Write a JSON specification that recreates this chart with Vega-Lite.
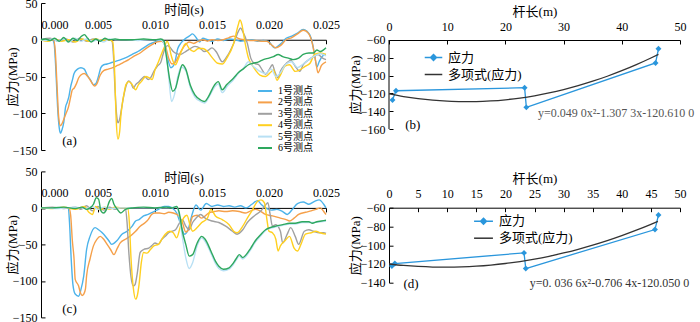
{
"$schema": "https://vega.github.io/schema/vega-lite/v6.json",
"background": "white",
"padding": {"left": 6, "top": -3, "right": 0, "bottom": 0},
"config": {
 "view": {"stroke": null},
 "font": "Liberation Serif, Noto Sans CJK SC",
 "axis": {"grid": false, "domainColor": "#000", "domainWidth": 1, "tickColor": "#000", "tickSize": -4, "tickWidth": 1, "labelColor": "#000", "labelFont": "Liberation Serif", "labelFontSize": 12, "titleFont": "Liberation Serif, Noto Sans CJK SC", "titleFontSize": 13, "titleFontWeight": "normal", "titleColor": "#000", "labelOverlap": false, "labelFlush": false, "labelBound": false},
 "legend": {"title": null, "orient": "none", "padding": 0, "labelFont": "Liberation Serif, Noto Sans CJK SC", "labelColor": "#000"}
},
"datasets": {
"A": [
{"s":"1号测点","t":0,"v":0},{"s":"1号测点","t":0.0005,"v":1},{"s":"1号测点","t":0.001,"v":0},{"s":"1号测点","t":0.00115,"v":-5},{"s":"1号测点","t":0.0013,"v":-40},{"s":"1号测点","t":0.00145,"v":-90},{"s":"1号测点","t":0.0016,"v":-120},{"s":"1号测点","t":0.0017,"v":-127},{"s":"1号测点","t":0.00185,"v":-122},{"s":"1号测点","t":0.002,"v":-112},{"s":"1号测点","t":0.00215,"v":-92},{"s":"1号测点","t":0.0023,"v":-85},{"s":"1号测点","t":0.00245,"v":-77},{"s":"1号测点","t":0.0026,"v":-64},{"s":"1号测点","t":0.00275,"v":-55},{"s":"1号测点","t":0.0029,"v":-46},{"s":"1号测点","t":0.0032,"v":-40},{"s":"1号测点","t":0.0035,"v":-38},{"s":"1号测点","t":0.0038,"v":-40},{"s":"1号测点","t":0.00405,"v":-48},{"s":"1号测点","t":0.00435,"v":-55},{"s":"1号测点","t":0.0046,"v":-61},{"s":"1号测点","t":0.0048,"v":-60},{"s":"1号测点","t":0.005,"v":-52},{"s":"1号测点","t":0.00525,"v":-38},{"s":"1号测点","t":0.0055,"v":-34},{"s":"1号测点","t":0.0058,"v":-33},{"s":"1号测点","t":0.0062,"v":-31},{"s":"1号测点","t":0.0066,"v":-29},{"s":"1号测点","t":0.007,"v":-27},{"s":"1号测点","t":0.0075,"v":-24},{"s":"1号测点","t":0.008,"v":-20},{"s":"1号测点","t":0.0085,"v":-16},{"s":"1号测点","t":0.009,"v":-11},{"s":"1号测点","t":0.0095,"v":-6},{"s":"1号测点","t":0.01,"v":-3},{"s":"1号测点","t":0.0105,"v":-1},{"s":"1号测点","t":0.0108,"v":-5},{"s":"1号测点","t":0.0111,"v":-25},{"s":"1号测点","t":0.0114,"v":-38},{"s":"1号测点","t":0.0117,"v":-33},{"s":"1号测点","t":0.012,"v":-12},{"s":"1号测点","t":0.0123,"v":-4},{"s":"1号测点","t":0.0127,"v":2},{"s":"1号测点","t":0.013,"v":5},{"s":"1号测点","t":0.0133,"v":8},{"s":"1号测点","t":0.0136,"v":3},{"s":"1号测点","t":0.0139,"v":-3},{"s":"1号测点","t":0.0142,"v":2},{"s":"1号测点","t":0.0146,"v":0},{"s":"1号测点","t":0.015,"v":-2},{"s":"1号测点","t":0.0155,"v":1},{"s":"1号测点","t":0.016,"v":-1},{"s":"1号测点","t":0.0165,"v":1},{"s":"1号测点","t":0.017,"v":0},{"s":"1号测点","t":0.0175,"v":-2},{"s":"1号测点","t":0.018,"v":-1},{"s":"1号测点","t":0.0185,"v":0},{"s":"1号测点","t":0.019,"v":-2},{"s":"1号测点","t":0.0195,"v":-1},{"s":"1号测点","t":0.02,"v":-3},{"s":"1号测点","t":0.0205,"v":-11},{"s":"1号测点","t":0.021,"v":-6},{"s":"1号测点","t":0.0215,"v":2},{"s":"1号测点","t":0.022,"v":5},{"s":"1号测点","t":0.0225,"v":9},{"s":"1号测点","t":0.023,"v":14},{"s":"1号测点","t":0.0233,"v":12},{"s":"1号测点","t":0.0237,"v":2},{"s":"1号测点","t":0.024,"v":-20},{"s":"1号测点","t":0.0242,"v":-37},{"s":"1号测点","t":0.0244,"v":-30},{"s":"1号测点","t":0.0247,"v":-22},{"s":"1号测点","t":0.025,"v":-20},
{"s":"2号测点","t":0,"v":0},{"s":"2号测点","t":0.0011,"v":0},{"s":"2号测点","t":0.00125,"v":-15},{"s":"2号测点","t":0.0014,"v":-60},{"s":"2号测点","t":0.00155,"v":-105},{"s":"2号测点","t":0.0017,"v":-117},{"s":"2号测点","t":0.00185,"v":-114},{"s":"2号测点","t":0.002,"v":-108},{"s":"2号测点","t":0.0022,"v":-100},{"s":"2号测点","t":0.0024,"v":-92},{"s":"2号测点","t":0.0026,"v":-78},{"s":"2号测点","t":0.00275,"v":-68},{"s":"2号测点","t":0.0029,"v":-66},{"s":"2号测点","t":0.0031,"v":-60},{"s":"2号测点","t":0.0033,"v":-52},{"s":"2号测点","t":0.0035,"v":-48},{"s":"2号测点","t":0.0038,"v":-46},{"s":"2号测点","t":0.0041,"v":-50},{"s":"2号测点","t":0.0044,"v":-57},{"s":"2号测点","t":0.0047,"v":-63},{"s":"2号测点","t":0.0049,"v":-60},{"s":"2号测点","t":0.0052,"v":-48},{"s":"2号测点","t":0.0055,"v":-42},{"s":"2号测点","t":0.0059,"v":-40},{"s":"2号测点","t":0.0063,"v":-38},{"s":"2号测点","t":0.0067,"v":-35},{"s":"2号测点","t":0.0072,"v":-31},{"s":"2号测点","t":0.0077,"v":-27},{"s":"2号测点","t":0.0082,"v":-22},{"s":"2号测点","t":0.0087,"v":-18},{"s":"2号测点","t":0.0092,"v":-12},{"s":"2号测点","t":0.0097,"v":-7},{"s":"2号测点","t":0.0102,"v":-3},{"s":"2号测点","t":0.0106,"v":-2},{"s":"2号测点","t":0.0109,"v":-8},{"s":"2号测点","t":0.0112,"v":-25},{"s":"2号测点","t":0.0115,"v":-33},{"s":"2号测点","t":0.0118,"v":-30},{"s":"2号测点","t":0.0122,"v":-18},{"s":"2号测点","t":0.0126,"v":-8},{"s":"2号测点","t":0.013,"v":-3},{"s":"2号测点","t":0.0134,"v":-5},{"s":"2号测点","t":0.0138,"v":-2},{"s":"2号测点","t":0.0142,"v":0},{"s":"2号测点","t":0.0146,"v":-2},{"s":"2号测点","t":0.015,"v":0},{"s":"2号测点","t":0.0155,"v":-1},{"s":"2号测点","t":0.016,"v":0},{"s":"2号测点","t":0.0165,"v":3},{"s":"2号测点","t":0.0169,"v":5},{"s":"2号测点","t":0.0173,"v":2},{"s":"2号测点","t":0.0178,"v":0},{"s":"2号测点","t":0.0183,"v":-1},{"s":"2号测点","t":0.0188,"v":-1},{"s":"2号测点","t":0.0193,"v":-2},{"s":"2号测点","t":0.0198,"v":-2},{"s":"2号测点","t":0.0203,"v":-8},{"s":"2号测点","t":0.0206,"v":-11},{"s":"2号测点","t":0.021,"v":-8},{"s":"2号测点","t":0.0215,"v":0},{"s":"2号测点","t":0.022,"v":3},{"s":"2号测点","t":0.0225,"v":8},{"s":"2号测点","t":0.023,"v":13},{"s":"2号测点","t":0.0234,"v":10},{"s":"2号测点","t":0.0238,"v":-5},{"s":"2号测点","t":0.0241,"v":-30},{"s":"2号测点","t":0.0243,"v":-45},{"s":"2号测点","t":0.0246,"v":-35},{"s":"2号测点","t":0.025,"v":-30},
{"s":"3号测点","t":0,"v":0},{"s":"3号测点","t":0.0008,"v":2},{"s":"3号测点","t":0.0015,"v":-2},{"s":"3号测点","t":0.0022,"v":1},{"s":"3号测点","t":0.0028,"v":-3},{"s":"3号测点","t":0.0034,"v":2},{"s":"3号测点","t":0.004,"v":-2},{"s":"3号测点","t":0.0046,"v":1},{"s":"3号测点","t":0.0052,"v":-1},{"s":"3号测点","t":0.0058,"v":0},{"s":"3号测点","t":0.0062,"v":-1},{"s":"3号测点","t":0.00635,"v":-20},{"s":"3号测点","t":0.0065,"v":-70},{"s":"3号测点","t":0.00665,"v":-105},{"s":"3号测点","t":0.00675,"v":-113},{"s":"3号测点","t":0.0069,"v":-108},{"s":"3号测点","t":0.00705,"v":-95},{"s":"3号测点","t":0.00725,"v":-77},{"s":"3号测点","t":0.0075,"v":-61},{"s":"3号测点","t":0.0077,"v":-56},{"s":"3号测点","t":0.0079,"v":-59},{"s":"3号测点","t":0.0081,"v":-66},{"s":"3号测点","t":0.0083,"v":-61},{"s":"3号测点","t":0.0086,"v":-57},{"s":"3号测点","t":0.0089,"v":-52},{"s":"3号测点","t":0.0091,"v":-50},{"s":"3号测点","t":0.0094,"v":-54},{"s":"3号测点","t":0.0096,"v":-52},{"s":"3号测点","t":0.0099,"v":-43},{"s":"3号测点","t":0.0102,"v":-36},{"s":"3号测点","t":0.0105,"v":-31},{"s":"3号测点","t":0.0107,"v":-20},{"s":"3号测点","t":0.0109,"v":-11},{"s":"3号测点","t":0.0111,"v":-8},{"s":"3号测点","t":0.0113,"v":-10},{"s":"3号测点","t":0.0116,"v":-16},{"s":"3号测点","t":0.0119,"v":-19},{"s":"3号测点","t":0.0122,"v":-20},{"s":"3号测点","t":0.0126,"v":-17},{"s":"3号测点","t":0.013,"v":-13},{"s":"3号测点","t":0.0135,"v":-9},{"s":"3号测点","t":0.014,"v":-12},{"s":"3号测点","t":0.0143,"v":-16},{"s":"3号测点","t":0.0147,"v":-14},{"s":"3号测点","t":0.015,"v":-11},{"s":"3号测点","t":0.0154,"v":-17},{"s":"3号测点","t":0.0159,"v":-30},{"s":"3号测点","t":0.0163,"v":-23},{"s":"3号测点","t":0.0169,"v":-5},{"s":"3号测点","t":0.0173,"v":11},{"s":"3号测点","t":0.0175,"v":16},{"s":"3号测点","t":0.0177,"v":11},{"s":"3号测点","t":0.0181,"v":-5},{"s":"3号测点","t":0.0184,"v":-25},{"s":"3号测点","t":0.0187,"v":-32},{"s":"3号测点","t":0.0191,"v":-34},{"s":"3号测点","t":0.0194,"v":-41},{"s":"3号测点","t":0.0197,"v":-47},{"s":"3号测点","t":0.02,"v":-41},{"s":"3号测点","t":0.0203,"v":-34},{"s":"3号测点","t":0.0205,"v":-43},{"s":"3号测点","t":0.0208,"v":-52},{"s":"3号测点","t":0.021,"v":-43},{"s":"3号测点","t":0.0214,"v":-34},{"s":"3号测点","t":0.0219,"v":-28},{"s":"3号测点","t":0.0223,"v":-36},{"s":"3号测点","t":0.0227,"v":-43},{"s":"3号测点","t":0.023,"v":-34},{"s":"3号测点","t":0.0235,"v":-27},{"s":"3号测点","t":0.0239,"v":-23},{"s":"3号测点","t":0.0243,"v":-20},{"s":"3号测点","t":0.0247,"v":-25},{"s":"3号测点","t":0.025,"v":-27},
{"s":"4号测点","t":0,"v":0},{"s":"4号测点","t":0.0006,"v":-2},{"s":"4号测点","t":0.0012,"v":1},{"s":"4号测点","t":0.0018,"v":-2},{"s":"4号测点","t":0.0024,"v":0},{"s":"4号测点","t":0.003,"v":-3},{"s":"4号测点","t":0.0036,"v":1},{"s":"4号测点","t":0.0042,"v":-2},{"s":"4号测点","t":0.0048,"v":1},{"s":"4号测点","t":0.0054,"v":-1},{"s":"4号测点","t":0.006,"v":0},{"s":"4号测点","t":0.0063,"v":-3},{"s":"4号测点","t":0.00645,"v":-40},{"s":"4号测点","t":0.0066,"v":-110},{"s":"4号测点","t":0.00675,"v":-135},{"s":"4号测点","t":0.0069,"v":-125},{"s":"4号测点","t":0.007,"v":-105},{"s":"4号测点","t":0.00715,"v":-85},{"s":"4号测点","t":0.0073,"v":-72},{"s":"4号测点","t":0.00745,"v":-61},{"s":"4号测点","t":0.0077,"v":-57},{"s":"4号测点","t":0.008,"v":-61},{"s":"4号测点","t":0.0083,"v":-68},{"s":"4号测点","t":0.00855,"v":-61},{"s":"4号测点","t":0.0088,"v":-57},{"s":"4号测点","t":0.0092,"v":-50},{"s":"4号测点","t":0.0095,"v":-52},{"s":"4号测点","t":0.00975,"v":-54},{"s":"4号测点","t":0.01,"v":-41},{"s":"4号测点","t":0.01025,"v":-32},{"s":"4号测点","t":0.01055,"v":-20},{"s":"4号测点","t":0.01085,"v":-9},{"s":"4号测点","t":0.01105,"v":-2},{"s":"4号测点","t":0.0112,"v":-6},{"s":"4号测点","t":0.0114,"v":-20},{"s":"4号测点","t":0.0116,"v":-30},{"s":"4号测点","t":0.0118,"v":-34},{"s":"4号测点","t":0.012,"v":-28},{"s":"4号测点","t":0.0123,"v":-16},{"s":"4号测点","t":0.0127,"v":-5},{"s":"4号测点","t":0.013,"v":-12},{"s":"4号测点","t":0.0134,"v":-16},{"s":"4号测点","t":0.0138,"v":-12},{"s":"4号测点","t":0.0142,"v":-12},{"s":"4号测点","t":0.0146,"v":-16},{"s":"4号测点","t":0.015,"v":-24},{"s":"4号测点","t":0.0155,"v":-32},{"s":"4号测点","t":0.0159,"v":-33},{"s":"4号测点","t":0.0163,"v":-25},{"s":"4号测点","t":0.0169,"v":-5},{"s":"4号测点","t":0.0173,"v":20},{"s":"4号测点","t":0.01745,"v":27},{"s":"4号测点","t":0.0176,"v":22},{"s":"4号测点","t":0.0179,"v":-4},{"s":"4号测点","t":0.0182,"v":-25},{"s":"4号测点","t":0.0185,"v":-34},{"s":"4号测点","t":0.0188,"v":-41},{"s":"4号测点","t":0.0192,"v":-48},{"s":"4号测点","t":0.0197,"v":-50},{"s":"4号测点","t":0.0201,"v":-45},{"s":"4号测点","t":0.0204,"v":-41},{"s":"4号测点","t":0.0207,"v":-55},{"s":"4号测点","t":0.021,"v":-48},{"s":"4号测点","t":0.0214,"v":-36},{"s":"4号测点","t":0.0218,"v":-34},{"s":"4号测点","t":0.0223,"v":-43},{"s":"4号测点","t":0.0227,"v":-41},{"s":"4号测点","t":0.0232,"v":-36},{"s":"4号测点","t":0.0236,"v":-32},{"s":"4号测点","t":0.024,"v":-20},{"s":"4号测点","t":0.0245,"v":-18},{"s":"4号测点","t":0.025,"v":-20},
{"s":"5号测点","t":0,"v":0},{"s":"5号测点","t":0.0005,"v":-1},{"s":"5号测点","t":0.001,"v":1},{"s":"5号测点","t":0.0015,"v":-2},{"s":"5号测点","t":0.002,"v":1},{"s":"5号测点","t":0.0025,"v":-3},{"s":"5号测点","t":0.003,"v":2},{"s":"5号测点","t":0.0035,"v":-2},{"s":"5号测点","t":0.004,"v":1},{"s":"5号测点","t":0.0045,"v":-2},{"s":"5号测点","t":0.005,"v":0},{"s":"5号测点","t":0.0055,"v":-3},{"s":"5号测点","t":0.006,"v":1},{"s":"5号测点","t":0.0065,"v":0},{"s":"5号测点","t":0.0075,"v":0},{"s":"5号测点","t":0.0085,"v":-1},{"s":"5号测点","t":0.0095,"v":0},{"s":"5号测点","t":0.0105,"v":0},{"s":"5号测点","t":0.0109,"v":-10},{"s":"5号测点","t":0.0112,"v":-50},{"s":"5号测点","t":0.01145,"v":-84},{"s":"5号测点","t":0.0117,"v":-75},{"s":"5号测点","t":0.012,"v":-50},{"s":"5号测点","t":0.0123,"v":-37},{"s":"5号测点","t":0.0127,"v":-42},{"s":"5号测点","t":0.0131,"v":-65},{"s":"5号测点","t":0.0135,"v":-78},{"s":"5号测点","t":0.014,"v":-84},{"s":"5号测点","t":0.01435,"v":-86},{"s":"5号测点","t":0.0147,"v":-79},{"s":"5号测点","t":0.0152,"v":-65},{"s":"5号测点","t":0.01555,"v":-60},{"s":"5号测点","t":0.0159,"v":-72},{"s":"5号测点","t":0.0163,"v":-64},{"s":"5号测点","t":0.0169,"v":-54},{"s":"5号测点","t":0.0173,"v":-46},{"s":"5号测点","t":0.0178,"v":-38},{"s":"5号测点","t":0.0182,"v":-30},{"s":"5号测点","t":0.0186,"v":-36},{"s":"5号测点","t":0.0191,"v":-42},{"s":"5号测点","t":0.0197,"v":-46},{"s":"5号测点","t":0.0202,"v":-40},{"s":"5号测点","t":0.0206,"v":-50},{"s":"5号测点","t":0.021,"v":-45},{"s":"5号测点","t":0.0215,"v":-33},{"s":"5号测点","t":0.022,"v":-30},{"s":"5号测点","t":0.0225,"v":-38},{"s":"5号测点","t":0.023,"v":-33},{"s":"5号测点","t":0.0235,"v":-27},{"s":"5号测点","t":0.024,"v":-22},{"s":"5号测点","t":0.0245,"v":-19},{"s":"5号测点","t":0.025,"v":-22},
{"s":"6号测点","t":0,"v":0},{"s":"6号测点","t":0.0004,"v":1},{"s":"6号测点","t":0.0008,"v":-1},{"s":"6号测点","t":0.0012,"v":2},{"s":"6号测点","t":0.0016,"v":-2},{"s":"6号测点","t":0.002,"v":3},{"s":"6号测点","t":0.0024,"v":-3},{"s":"6号测点","t":0.0028,"v":2},{"s":"6号测点","t":0.0032,"v":-1},{"s":"6号测点","t":0.0035,"v":4},{"s":"6号测点","t":0.0038,"v":7},{"s":"6号测点","t":0.0041,"v":2},{"s":"6号测点","t":0.0044,"v":-3},{"s":"6号测点","t":0.0048,"v":1},{"s":"6号测点","t":0.0052,"v":-2},{"s":"6号测点","t":0.0056,"v":2},{"s":"6号测点","t":0.006,"v":0},{"s":"6号测点","t":0.0065,"v":1},{"s":"6号测点","t":0.007,"v":0},{"s":"6号测点","t":0.008,"v":0},{"s":"6号测点","t":0.009,"v":1},{"s":"6号测点","t":0.01,"v":0},{"s":"6号测点","t":0.0105,"v":1},{"s":"6号测点","t":0.0108,"v":-2},{"s":"6号测点","t":0.011,"v":-23},{"s":"6号测点","t":0.0113,"v":-55},{"s":"6号测点","t":0.01155,"v":-70},{"s":"6号测点","t":0.0118,"v":-66},{"s":"6号测点","t":0.0121,"v":-48},{"s":"6号测点","t":0.0124,"v":-34},{"s":"6号测点","t":0.0127,"v":-40},{"s":"6号测点","t":0.0131,"v":-62},{"s":"6号测点","t":0.0135,"v":-75},{"s":"6号测点","t":0.014,"v":-82},{"s":"6号测点","t":0.01435,"v":-84},{"s":"6号测点","t":0.0147,"v":-77},{"s":"6号测点","t":0.0152,"v":-62},{"s":"6号测点","t":0.01555,"v":-57},{"s":"6号测点","t":0.0159,"v":-68},{"s":"6号测点","t":0.0163,"v":-61},{"s":"6号测点","t":0.0169,"v":-52},{"s":"6号测点","t":0.0173,"v":-45},{"s":"6号测点","t":0.0178,"v":-39},{"s":"6号测点","t":0.0182,"v":-34},{"s":"6号测点","t":0.0186,"v":-32},{"s":"6号测点","t":0.0191,"v":-30},{"s":"6号测点","t":0.0195,"v":-27},{"s":"6号测点","t":0.02,"v":-25},{"s":"6号测点","t":0.0204,"v":-23},{"s":"6号测点","t":0.0208,"v":-20},{"s":"6号测点","t":0.0212,"v":-23},{"s":"6号测点","t":0.0217,"v":-25},{"s":"6号测点","t":0.0221,"v":-27},{"s":"6号测点","t":0.0226,"v":-25},{"s":"6号测点","t":0.023,"v":-20},{"s":"6号测点","t":0.0235,"v":-18},{"s":"6号测点","t":0.0239,"v":-18},{"s":"6号测点","t":0.0242,"v":-14},{"s":"6号测点","t":0.0245,"v":-16},{"s":"6号测点","t":0.025,"v":-11}
],
"C": [
{"s":"1号测点","t":0,"v":0},{"s":"1号测点","t":0.001,"v":0},{"s":"1号测点","t":0.002,"v":0},{"s":"1号测点","t":0.0024,"v":0},{"s":"1号测点","t":0.0025,"v":-20},{"s":"1号测点","t":0.00265,"v":-70},{"s":"1号测点","t":0.0028,"v":-105},{"s":"1号测点","t":0.003,"v":-118},{"s":"1号测点","t":0.0033,"v":-121},{"s":"1号测点","t":0.0035,"v":-112},{"s":"1号测点","t":0.00375,"v":-93},{"s":"1号测点","t":0.004,"v":-57},{"s":"1号测点","t":0.0043,"v":-39},{"s":"1号测点","t":0.00475,"v":-27},{"s":"1号测点","t":0.00505,"v":-30},{"s":"1号测点","t":0.0055,"v":-36},{"s":"1号测点","t":0.00595,"v":-45},{"s":"1号测点","t":0.0062,"v":-50},{"s":"1号测点","t":0.00665,"v":-45},{"s":"1号测点","t":0.0071,"v":-36},{"s":"1号测点","t":0.00755,"v":-32},{"s":"1号测点","t":0.008,"v":-25},{"s":"1号测点","t":0.0083,"v":-18},{"s":"1号测点","t":0.0086,"v":-16},{"s":"1号测点","t":0.009,"v":-11},{"s":"1号测点","t":0.0094,"v":-9},{"s":"1号测点","t":0.0099,"v":-5},{"s":"1号测点","t":0.0103,"v":-2},{"s":"1号测点","t":0.0108,"v":2},{"s":"1号测点","t":0.0112,"v":2},{"s":"1号测点","t":0.0115,"v":0},{"s":"1号测点","t":0.0119,"v":-7},{"s":"1号测点","t":0.0122,"v":-20},{"s":"1号测点","t":0.0126,"v":-36},{"s":"1号测点","t":0.0129,"v":-30},{"s":"1号测点","t":0.0132,"v":-12},{"s":"1号测点","t":0.0136,"v":4},{"s":"1号测点","t":0.014,"v":-3},{"s":"1号测点","t":0.0145,"v":6},{"s":"1号测点","t":0.015,"v":2},{"s":"1号测点","t":0.0155,"v":4},{"s":"1号测点","t":0.016,"v":2},{"s":"1号测点","t":0.0165,"v":3},{"s":"1号测点","t":0.017,"v":1},{"s":"1号测点","t":0.0175,"v":3},{"s":"1号测点","t":0.018,"v":0},{"s":"1号测点","t":0.0185,"v":5},{"s":"1号测点","t":0.019,"v":10},{"s":"1号测点","t":0.0193,"v":5},{"s":"1号测点","t":0.0197,"v":0},{"s":"1号测点","t":0.0202,"v":-3},{"s":"1号测点","t":0.0207,"v":-2},{"s":"1号测点","t":0.0212,"v":-5},{"s":"1号测点","t":0.0216,"v":-9},{"s":"1号测点","t":0.022,"v":-3},{"s":"1号测点","t":0.0225,"v":6},{"s":"1号测点","t":0.023,"v":8},{"s":"1号测点","t":0.0235,"v":5},{"s":"1号测点","t":0.024,"v":9},{"s":"1号测点","t":0.0244,"v":11},{"s":"1号测点","t":0.0248,"v":5},{"s":"1号测点","t":0.025,"v":0},
{"s":"2号测点","t":0,"v":0},{"s":"2号测点","t":0.00245,"v":0},{"s":"2号测点","t":0.0026,"v":-10},{"s":"2号测点","t":0.00275,"v":-45},{"s":"2号测点","t":0.0029,"v":-70},{"s":"2号测点","t":0.003,"v":-98},{"s":"2号测点","t":0.0033,"v":-107},{"s":"2号测点","t":0.00345,"v":-116},{"s":"2号测点","t":0.0036,"v":-120},{"s":"2号测点","t":0.00375,"v":-118},{"s":"2号测点","t":0.0039,"v":-111},{"s":"2号测点","t":0.004,"v":-93},{"s":"2号测点","t":0.0043,"v":-70},{"s":"2号测点","t":0.0046,"v":-52},{"s":"2号测点","t":0.0049,"v":-43},{"s":"2号测点","t":0.0052,"v":-39},{"s":"2号测点","t":0.0055,"v":-43},{"s":"2号测点","t":0.0058,"v":-50},{"s":"2号测点","t":0.0061,"v":-57},{"s":"2号测点","t":0.0064,"v":-64},{"s":"2号测点","t":0.0067,"v":-55},{"s":"2号测点","t":0.00695,"v":-48},{"s":"2号测点","t":0.0074,"v":-43},{"s":"2号测点","t":0.0078,"v":-39},{"s":"2号测点","t":0.0083,"v":-32},{"s":"2号测点","t":0.0087,"v":-25},{"s":"2号测点","t":0.00915,"v":-20},{"s":"2号测点","t":0.0094,"v":-16},{"s":"2号测点","t":0.0097,"v":-9},{"s":"2号测点","t":0.01,"v":-7},{"s":"2号测点","t":0.0104,"v":-7},{"s":"2号测点","t":0.0108,"v":-8},{"s":"2号测点","t":0.0112,"v":-6},{"s":"2号测点","t":0.0116,"v":-7},{"s":"2号测点","t":0.0121,"v":-11},{"s":"2号测点","t":0.0124,"v":-20},{"s":"2号测点","t":0.0127,"v":-33},{"s":"2号测点","t":0.013,"v":-28},{"s":"2号测点","t":0.0133,"v":-12},{"s":"2号测点","t":0.0137,"v":-10},{"s":"2号测点","t":0.0141,"v":-14},{"s":"2号测点","t":0.0147,"v":-7},{"s":"2号测点","t":0.0152,"v":-5},{"s":"2号测点","t":0.0156,"v":-4},{"s":"2号测点","t":0.0162,"v":-5},{"s":"2号测点","t":0.0168,"v":-4},{"s":"2号测点","t":0.0174,"v":-5},{"s":"2号测点","t":0.0179,"v":-7},{"s":"2号测点","t":0.0184,"v":-4},{"s":"2号测点","t":0.0188,"v":-2},{"s":"2号测点","t":0.0192,"v":-4},{"s":"2号测点","t":0.0197,"v":-9},{"s":"2号测点","t":0.0203,"v":-11},{"s":"2号测点","t":0.021,"v":-14},{"s":"2号测点","t":0.0215,"v":-16},{"s":"2号测点","t":0.0218,"v":-18},{"s":"2号测点","t":0.0222,"v":-14},{"s":"2号测点","t":0.0226,"v":-9},{"s":"2号测点","t":0.0232,"v":-6},{"s":"2号测点","t":0.0237,"v":-4},{"s":"2号测点","t":0.0241,"v":-2},{"s":"2号测点","t":0.0245,"v":0},{"s":"2号测点","t":0.0248,"v":-5},{"s":"2号测点","t":0.025,"v":-9},
{"s":"3号测点","t":0,"v":0},{"s":"3号测点","t":0.001,"v":1},{"s":"3号测点","t":0.002,"v":-1},{"s":"3号测点","t":0.003,"v":1},{"s":"3号测点","t":0.0035,"v":-2},{"s":"3号测点","t":0.004,"v":3},{"s":"3号测点","t":0.0045,"v":-4},{"s":"3号测点","t":0.005,"v":2},{"s":"3号测点","t":0.0055,"v":-3},{"s":"3号测点","t":0.006,"v":1},{"s":"3号测点","t":0.0065,"v":-2},{"s":"3号测点","t":0.007,"v":0},{"s":"3号测点","t":0.0074,"v":0},{"s":"3号测点","t":0.00755,"v":-20},{"s":"3号测点","t":0.0077,"v":-60},{"s":"3号测点","t":0.0079,"v":-95},{"s":"3号测点","t":0.0081,"v":-107},{"s":"3号测点","t":0.00825,"v":-105},{"s":"3号测点","t":0.00845,"v":-89},{"s":"3号测点","t":0.0087,"v":-61},{"s":"3号测点","t":0.009,"v":-57},{"s":"3号测点","t":0.00945,"v":-55},{"s":"3号测点","t":0.0097,"v":-52},{"s":"3号测点","t":0.01,"v":-48},{"s":"3号测点","t":0.0103,"v":-50},{"s":"3号测点","t":0.0106,"v":-43},{"s":"3号测点","t":0.0109,"v":-39},{"s":"3号测点","t":0.0112,"v":-34},{"s":"3号测点","t":0.0115,"v":-32},{"s":"3号测点","t":0.0118,"v":-30},{"s":"3号测点","t":0.0121,"v":-22},{"s":"3号测点","t":0.0124,"v":-16},{"s":"3号测点","t":0.0127,"v":-25},{"s":"3号测点","t":0.013,"v":-30},{"s":"3号测点","t":0.0133,"v":-20},{"s":"3号测点","t":0.0136,"v":-14},{"s":"3号测点","t":0.014,"v":-9},{"s":"3号测点","t":0.0144,"v":-14},{"s":"3号测点","t":0.015,"v":-18},{"s":"3号测点","t":0.0156,"v":-20},{"s":"3号测点","t":0.0162,"v":-25},{"s":"3号测点","t":0.0168,"v":-32},{"s":"3号测点","t":0.0172,"v":-36},{"s":"3号测点","t":0.0177,"v":-30},{"s":"3号测点","t":0.0181,"v":-20},{"s":"3号测点","t":0.0187,"v":-11},{"s":"3号测点","t":0.0193,"v":-4},{"s":"3号测点","t":0.0197,"v":4},{"s":"3号测点","t":0.0199,"v":7},{"s":"3号测点","t":0.0201,"v":-9},{"s":"3号测点","t":0.0203,"v":-25},{"s":"3号测点","t":0.0206,"v":-23},{"s":"3号测点","t":0.021,"v":-32},{"s":"3号测点","t":0.0212,"v":-48},{"s":"3号测点","t":0.0216,"v":-36},{"s":"3号测点","t":0.0219,"v":-27},{"s":"3号测点","t":0.0223,"v":-39},{"s":"3号测点","t":0.0226,"v":-50},{"s":"3号测点","t":0.0231,"v":-32},{"s":"3号测点","t":0.0235,"v":-30},{"s":"3号测点","t":0.0239,"v":-32},{"s":"3号测点","t":0.0244,"v":-34},{"s":"3号测点","t":0.0248,"v":-34},{"s":"3号测点","t":0.025,"v":-35},
{"s":"4号测点","t":0,"v":0},{"s":"4号测点","t":0.001,"v":-1},{"s":"4号测点","t":0.002,"v":1},{"s":"4号测点","t":0.003,"v":-2},{"s":"4号测点","t":0.0038,"v":2},{"s":"4号测点","t":0.0042,"v":-6},{"s":"4号测点","t":0.0045,"v":-9},{"s":"4号测点","t":0.0048,"v":2},{"s":"4号测点","t":0.0052,"v":-3},{"s":"4号测点","t":0.0056,"v":1},{"s":"4号测点","t":0.006,"v":-2},{"s":"4号测点","t":0.0065,"v":1},{"s":"4号测点","t":0.007,"v":0},{"s":"4号测点","t":0.0076,"v":0},{"s":"4号测点","t":0.00775,"v":-20},{"s":"4号测点","t":0.0079,"v":-70},{"s":"4号测点","t":0.0081,"v":-110},{"s":"4号测点","t":0.0083,"v":-125},{"s":"4号测点","t":0.00845,"v":-120},{"s":"4号测点","t":0.0086,"v":-105},{"s":"4号测点","t":0.0088,"v":-75},{"s":"4号测点","t":0.009,"v":-61},{"s":"4号测点","t":0.0093,"v":-62},{"s":"4号测点","t":0.0096,"v":-57},{"s":"4号测点","t":0.0099,"v":-52},{"s":"4号测点","t":0.0103,"v":-50},{"s":"4号测点","t":0.0106,"v":-43},{"s":"4号测点","t":0.0109,"v":-36},{"s":"4号测点","t":0.0113,"v":-32},{"s":"4号测点","t":0.0116,"v":-34},{"s":"4号测点","t":0.0119,"v":-41},{"s":"4号测点","t":0.0122,"v":-27},{"s":"4号测点","t":0.0125,"v":-14},{"s":"4号测点","t":0.0128,"v":-10},{"s":"4号测点","t":0.0131,"v":-25},{"s":"4号测点","t":0.0133,"v":-32},{"s":"4号测点","t":0.0137,"v":-27},{"s":"4号测点","t":0.0141,"v":-20},{"s":"4号测点","t":0.0146,"v":-14},{"s":"4号测点","t":0.0149,"v":-2},{"s":"4号测点","t":0.0153,"v":-11},{"s":"4号测点","t":0.0159,"v":-16},{"s":"4号测点","t":0.0165,"v":-23},{"s":"4号测点","t":0.0169,"v":-32},{"s":"4号测点","t":0.0172,"v":-34},{"s":"4号测点","t":0.0177,"v":-25},{"s":"4号测点","t":0.0181,"v":-14},{"s":"4号测点","t":0.0185,"v":-4},{"s":"4号测点","t":0.019,"v":9},{"s":"4号测点","t":0.0193,"v":11},{"s":"4号测点","t":0.0196,"v":7},{"s":"4号测点","t":0.0198,"v":-14},{"s":"4号测点","t":0.02,"v":-32},{"s":"4号测点","t":0.0203,"v":-34},{"s":"4号测点","t":0.0206,"v":-43},{"s":"4号测点","t":0.0208,"v":-59},{"s":"4号测点","t":0.021,"v":-52},{"s":"4号测点","t":0.0214,"v":-45},{"s":"4号测点","t":0.0218,"v":-39},{"s":"4号测点","t":0.0222,"v":-55},{"s":"4号测点","t":0.0225,"v":-59},{"s":"4号测点","t":0.0228,"v":-50},{"s":"4号测点","t":0.0232,"v":-36},{"s":"4号测点","t":0.0237,"v":-34},{"s":"4号测点","t":0.0241,"v":-32},{"s":"4号测点","t":0.0245,"v":-34},{"s":"4号测点","t":0.025,"v":-36},
{"s":"5号测点","t":0,"v":0},{"s":"5号测点","t":0.0015,"v":-1},{"s":"5号测点","t":0.003,"v":1},{"s":"5号测点","t":0.004,"v":-1},{"s":"5号测点","t":0.0045,"v":2},{"s":"5号测点","t":0.005,"v":-2},{"s":"5号测点","t":0.0055,"v":1},{"s":"5号测点","t":0.006,"v":-1},{"s":"5号测点","t":0.007,"v":0},{"s":"5号测点","t":0.009,"v":0},{"s":"5号测点","t":0.011,"v":0},{"s":"5号测点","t":0.0119,"v":1},{"s":"5号测点","t":0.0121,"v":-8},{"s":"5号测点","t":0.0124,"v":-40},{"s":"5号测点","t":0.0127,"v":-68},{"s":"5号测点","t":0.013,"v":-83},{"s":"5号测点","t":0.0133,"v":-75},{"s":"5号测点","t":0.0137,"v":-52},{"s":"5号测点","t":0.0141,"v":-41},{"s":"5号测点","t":0.0144,"v":-46},{"s":"5号测点","t":0.0149,"v":-62},{"s":"5号测点","t":0.0153,"v":-76},{"s":"5号测点","t":0.0156,"v":-83},{"s":"5号测点","t":0.016,"v":-86},{"s":"5号测点","t":0.0165,"v":-84},{"s":"5号测点","t":0.0168,"v":-79},{"s":"5号测点","t":0.0171,"v":-72},{"s":"5号测点","t":0.0174,"v":-66},{"s":"5号测点","t":0.0177,"v":-70},{"s":"5号测点","t":0.018,"v":-66},{"s":"5号测点","t":0.0184,"v":-57},{"s":"5号测点","t":0.0188,"v":-47},{"s":"5号测点","t":0.0193,"v":-38},{"s":"5号测点","t":0.0197,"v":-31},{"s":"5号测点","t":0.0201,"v":-28},{"s":"5号测点","t":0.0206,"v":-26},{"s":"5号测点","t":0.0212,"v":-24},{"s":"5号测点","t":0.0218,"v":-22},{"s":"5号测点","t":0.0223,"v":-22},{"s":"5号测点","t":0.0229,"v":-20},{"s":"5号测点","t":0.0235,"v":-20},{"s":"5号测点","t":0.024,"v":-20},{"s":"5号测点","t":0.0245,"v":-19},{"s":"5号测点","t":0.025,"v":-18},
{"s":"6号测点","t":0,"v":0},{"s":"6号测点","t":0.001,"v":0},{"s":"6号测点","t":0.002,"v":1},{"s":"6号测点","t":0.003,"v":-1},{"s":"6号测点","t":0.0036,"v":1},{"s":"6号测点","t":0.004,"v":-2},{"s":"6号测点","t":0.0043,"v":0},{"s":"6号测点","t":0.0046,"v":5},{"s":"6号测点","t":0.00485,"v":14},{"s":"6号测点","t":0.00505,"v":12},{"s":"6号测点","t":0.00526,"v":-4},{"s":"6号测点","t":0.0055,"v":-7},{"s":"6号测点","t":0.00575,"v":-2},{"s":"6号测点","t":0.006,"v":9},{"s":"6号测点","t":0.0062,"v":13},{"s":"6号测点","t":0.0064,"v":5},{"s":"6号测点","t":0.0067,"v":-2},{"s":"6号测点","t":0.007,"v":-7},{"s":"6号测点","t":0.0074,"v":-2},{"s":"6号测点","t":0.008,"v":0},{"s":"6号测点","t":0.009,"v":1},{"s":"6号测点","t":0.01,"v":0},{"s":"6号测点","t":0.011,"v":1},{"s":"6号测点","t":0.0115,"v":0},{"s":"6号测点","t":0.0119,"v":2},{"s":"6号测点","t":0.0121,"v":-5},{"s":"6号测点","t":0.0124,"v":-32},{"s":"6号测点","t":0.0127,"v":-50},{"s":"6号测点","t":0.013,"v":-66},{"s":"6号测点","t":0.0133,"v":-64},{"s":"6号测点","t":0.0137,"v":-48},{"s":"6号测点","t":0.0141,"v":-39},{"s":"6号测点","t":0.0144,"v":-43},{"s":"6号测点","t":0.0149,"v":-59},{"s":"6号测点","t":0.0153,"v":-73},{"s":"6号测点","t":0.0156,"v":-80},{"s":"6号测点","t":0.016,"v":-84},{"s":"6号测点","t":0.0165,"v":-82},{"s":"6号测点","t":0.0168,"v":-77},{"s":"6号测点","t":0.0171,"v":-70},{"s":"6号测点","t":0.0174,"v":-64},{"s":"6号测点","t":0.0177,"v":-68},{"s":"6号测点","t":0.018,"v":-64},{"s":"6号测点","t":0.0184,"v":-55},{"s":"6号测点","t":0.0188,"v":-45},{"s":"6号测点","t":0.0193,"v":-36},{"s":"6号测点","t":0.0197,"v":-30},{"s":"6号测点","t":0.0201,"v":-27},{"s":"6号测点","t":0.0206,"v":-25},{"s":"6号测点","t":0.0212,"v":-23},{"s":"6号测点","t":0.0218,"v":-21},{"s":"6号测点","t":0.0223,"v":-21},{"s":"6号测点","t":0.0229,"v":-19},{"s":"6号测点","t":0.0235,"v":-19},{"s":"6号测点","t":0.0238,"v":-21},{"s":"6号测点","t":0.0242,"v":-19},{"s":"6号测点","t":0.0246,"v":-18},{"s":"6号测点","t":0.025,"v":-17}
],
"B": [
{"s":"应力","x":0.6,"y":-127.4},{"s":"应力","x":1.2,"y":-117},{"s":"应力","x":23.3,"y":-113.6},{"s":"应力","x":23.6,"y":-135.7},{"s":"应力","x":45.8,"y":-85.8},{"s":"应力","x":46.3,"y":-69.9}
],
"BF": [
{"s":"多项式(应力)","x":0,"y":-120.61},{"s":"多项式(应力)","x":2.5,"y":-123.57},{"s":"多项式(应力)","x":5,"y":-125.92},{"s":"多项式(应力)","x":7.5,"y":-127.66},{"s":"多项式(应力)","x":10,"y":-128.78},{"s":"多项式(应力)","x":12.5,"y":-129.3},{"s":"多项式(应力)","x":15,"y":-129.19},{"s":"多项式(应力)","x":17.5,"y":-128.48},{"s":"多项式(应力)","x":20,"y":-127.16},{"s":"多项式(应力)","x":22.5,"y":-125.22},{"s":"多项式(应力)","x":25,"y":-122.67},{"s":"多项式(应力)","x":27.5,"y":-119.5},{"s":"多项式(应力)","x":30,"y":-115.73},{"s":"多项式(应力)","x":32.5,"y":-111.34},{"s":"多项式(应力)","x":35,"y":-106.34},{"s":"多项式(应力)","x":37.5,"y":-100.73},{"s":"多项式(应力)","x":40,"y":-94.5},{"s":"多项式(应力)","x":42.5,"y":-87.66},{"s":"多项式(应力)","x":45,"y":-80.21},{"s":"多项式(应力)","x":46.3,"y":-76.1}
],
"D": [
{"s":"应力","x":0.5,"y":-122.2},{"s":"应力","x":1.0,"y":-119.6},{"s":"应力","x":23.2,"y":-108.2},{"s":"应力","x":23.5,"y":-124.9},{"s":"应力","x":45.7,"y":-83.3},{"s":"应力","x":46.3,"y":-67.8}
],
"DF": [
{"s":"多项式(应力)","x":0,"y":-120.05},{"s":"多项式(应力)","x":2.5,"y":-121.59},{"s":"多项式(应力)","x":5,"y":-122.67},{"s":"多项式(应力)","x":7.5,"y":-123.29},{"s":"多项式(应力)","x":10,"y":-123.45},{"s":"多项式(应力)","x":12.5,"y":-123.16},{"s":"多项式(应力)","x":15,"y":-122.41},{"s":"多项式(应力)","x":17.5,"y":-121.2},{"s":"多项式(应力)","x":20,"y":-119.54},{"s":"多项式(应力)","x":22.5,"y":-117.42},{"s":"多项式(应力)","x":25,"y":-114.84},{"s":"多项式(应力)","x":27.5,"y":-111.8},{"s":"多项式(应力)","x":30,"y":-108.3},{"s":"多项式(应力)","x":32.5,"y":-104.35},{"s":"多项式(应力)","x":35,"y":-99.94},{"s":"多项式(应力)","x":37.5,"y":-95.07},{"s":"多项式(应力)","x":40,"y":-89.75},{"s":"多项式(应力)","x":42.5,"y":-83.96},{"s":"多项式(应力)","x":45,"y":-77.72},{"s":"多项式(应力)","x":46.2,"y":-74.57}
]
},
"hconcat": [
{
 "vconcat": [
  {
   "width": 285, "height": 147,
   "layer": [
    {"data": {"name": "A"}, "mark": {"type": "line", "strokeWidth": 1.4, "interpolate": "monotone"},
     "encoding": {
      "x": {"field": "t", "type": "quantitative", "scale": {"domain": [0, 0.025], "nice": false, "zero": false},
            "axis": {"orient": "top", "offset": -36.75, "values": [0, 0.005, 0.01, 0.015, 0.02, 0.025], "tickCount": 30, "format": ".3f", "title": "时间(s)", "labelPadding": 12, "titlePadding": 2, "labelOverlap": false, "labelAlign": {"condition": {"test": "datum.value === 0", "value": "left"}, "value": "center"}}},
      "y": {"field": "v", "type": "quantitative", "scale": {"domain": [-150, 50], "nice": false},
            "axis": {"values": [-150, -100, -50, 0, 50], "tickCount": 30, "title": "应力(MPa)", "labelPadding": 8, "labelOverlap": false, "titleX": -29, "titleY": 73.5, "titleBaseline": "middle", "titleAngle": -90}},
      "color": {"field": "s", "type": "nominal", "scale": {"domain": ["1号测点","2号测点","3号测点","4号测点","5号测点","6号测点"], "range": ["#4cb3ea","#f5a04a","#a0a0a0","#ffd020","#b8e0f4","#2ea85e"]},
                "legend": {"legendX": 218, "legendY": 82, "symbolType": "M-1.4,0L1.4,0", "symbolSize": 100, "symbolStrokeWidth": 2, "labelFontSize": 10, "rowPadding": 0.4, "labelOffset": 7}}
     }},
    {"data": {"values": [{}]}, "mark": {"type": "text", "fontSize": 13, "font": "Liberation Serif"},
     "encoding": {"x": {"datum": 0.0025}, "y": {"datum": -138}, "text": {"value": "(a)"}}}
   ]
  },
  {
   "width": 285, "height": 146,
   "layer": [
    {"data": {"name": "C"}, "mark": {"type": "line", "strokeWidth": 1.4, "interpolate": "monotone"},
     "encoding": {
      "x": {"field": "t", "type": "quantitative", "scale": {"domain": [0, 0.025], "nice": false, "zero": false},
            "axis": {"orient": "top", "offset": -36.5, "values": [0, 0.005, 0.01, 0.015, 0.02, 0.025], "tickCount": 30, "format": ".3f", "title": "时间(s)", "labelPadding": 12, "titlePadding": 2, "labelOverlap": false, "labelAlign": {"condition": {"test": "datum.value === 0", "value": "left"}, "value": "center"}}},
      "y": {"field": "v", "type": "quantitative", "scale": {"domain": [-150, 50], "nice": false},
            "axis": {"values": [-150, -100, -50, 0, 50], "tickCount": 30, "title": "应力(MPa)", "labelPadding": 8, "labelOverlap": false, "titleX": -29, "titleY": 73, "titleBaseline": "middle", "titleAngle": -90}},
      "color": {"field": "s", "type": "nominal", "scale": {"domain": ["1号测点","2号测点","3号测点","4号测点","5号测点","6号测点"], "range": ["#4cb3ea","#f5a04a","#a0a0a0","#ffd020","#b8e0f4","#2ea85e"]}, "legend": null}
     }},
    {"data": {"values": [{}]}, "mark": {"type": "text", "fontSize": 13, "font": "Liberation Serif"},
     "encoding": {"x": {"datum": 0.0025}, "y": {"datum": -139}, "text": {"value": "(c)"}}}
   ]
  }
 ],
 "spacing": 21.4,
 "bounds": "flush",
 "resolve": {"scale": {"color": "independent"}}
},
{
 "vconcat": [
  {
   "width": 291, "height": 126,
   "layer": [
    {"data": {"name": "B"}, "mark": {"type": "line", "strokeWidth": 1.3},
     "encoding": {
      "x": {"field": "x", "type": "quantitative", "scale": {"domain": [0, 50], "nice": false},
            "axis": {"orient": "top", "offset": -37, "values": [0, 10, 20, 30, 40, 50], "tickCount": 30, "title": "杆长(m)", "labelPadding": 11, "titlePadding": 2, "labelOverlap": false}},
      "y": {"field": "y", "type": "quantitative", "scale": {"domain": [-160, -18.43], "nice": false},
            "axis": {"domain": false, "values": [-160, -140, -120, -100, -80, -60], "tickCount": 30, "title": "应力(MPa)", "labelPadding": 8, "labelOverlap": false, "titleX": -34, "titleY": 81.5, "titleBaseline": "middle", "titleAngle": -90}},
      "color": {"field": "s", "type": "nominal", "scale": {"domain": ["应力", "多项式(应力)"], "range": ["#2a96dc", "#333333"]},
                "legend": {"legendX": 37, "legendY": 47, "symbolType": "stroke", "symbolSize": 169, "symbolStrokeWidth": 1.5, "labelFontSize": 13, "rowPadding": 2, "labelOffset": 7,
                           "encode": {"symbols": {"update": {"shape": {"signal": "datum.value === '应力' ? 'M-1.35,0L1.35,0M0,-0.45L0.45,0L0,0.45L-0.45,0Z' : 'M-1.35,0L1.35,0'"}, "fill": {"signal": "datum.value === '应力' ? '#2a96dc' : 'transparent'"}}}}}}
     }},
    {"data": {"values": [{}]}, "mark": {"type": "rule", "color": "#000", "strokeWidth": 1},
     "encoding": {"x": {"datum": 0}, "y": {"datum": -160}, "y2": {"datum": -60}}},
    {"data": {"name": "B"}, "mark": {"type": "point", "shape": "diamond", "filled": true, "size": 35, "color": "#2a96dc", "opacity": 1},
     "encoding": {"x": {"field": "x", "type": "quantitative"}, "y": {"field": "y", "type": "quantitative"}}},
    {"data": {"name": "BF"}, "mark": {"type": "line", "strokeWidth": 1.3, "interpolate": "monotone"},
     "encoding": {"x": {"field": "x", "type": "quantitative"}, "y": {"field": "y", "type": "quantitative"}, "color": {"field": "s", "type": "nominal"}}},
    {"data": {"values": [{}]}, "mark": {"type": "text", "align": "left", "baseline": "middle", "fontSize": 12, "font": "Liberation Serif", "color": "#555555"},
     "encoding": {"x": {"datum": 25.6}, "y": {"datum": -142}, "text": {"value": "y=0.049 0x²-1.307 3x-120.610 0"}}},
    {"data": {"values": [{}]}, "mark": {"type": "text", "fontSize": 13, "font": "Liberation Serif"},
     "encoding": {"x": {"datum": 4.1}, "y": {"datum": -156}, "text": {"value": "(b)"}}}
   ]
  },
  {
   "width": 291, "height": 75,
   "layer": [
    {"data": {"name": "D"}, "mark": {"type": "line", "strokeWidth": 1.3},
     "encoding": {
      "x": {"field": "x", "type": "quantitative", "scale": {"domain": [0, 50], "nice": false},
            "axis": {"orient": "top", "values": [0, 5, 10, 15, 20, 25, 30, 35, 40, 45, 50], "tickCount": 30, "title": "杆长(m)", "labelPadding": 11, "titlePadding": 2, "labelOverlap": false}},
      "y": {"field": "y", "type": "quantitative", "scale": {"domain": [-140, -60], "nice": false},
            "axis": {"values": [-140, -120, -100, -80, -60], "tickCount": 30, "title": "应力(MPa)", "labelPadding": 8, "labelOverlap": false, "titleX": -34, "titleY": 37.5, "titleBaseline": "middle", "titleAngle": -90}},
      "color": {"field": "s", "type": "nominal", "scale": {"domain": ["应力", "多项式(应力)"], "range": ["#2a96dc", "#333333"]},
                "legend": {"legendX": 87, "legendY": 6, "symbolType": "stroke", "symbolSize": 169, "symbolStrokeWidth": 1.5, "labelFontSize": 13, "rowPadding": 2, "labelOffset": 8,
                           "encode": {"symbols": {"update": {"shape": {"signal": "datum.value === '应力' ? 'M-1.45,0L1.45,0M0,-0.45L0.45,0L0,0.45L-0.45,0Z' : 'M-1.45,0L1.45,0'"}, "fill": {"signal": "datum.value === '应力' ? '#2a96dc' : 'transparent'"}}}}}}
     }},
    {"data": {"name": "D"}, "mark": {"type": "point", "shape": "diamond", "filled": true, "size": 35, "color": "#2a96dc", "opacity": 1},
     "encoding": {"x": {"field": "x", "type": "quantitative"}, "y": {"field": "y", "type": "quantitative"}}},
    {"data": {"name": "DF"}, "mark": {"type": "line", "strokeWidth": 1.3, "interpolate": "monotone"},
     "encoding": {"x": {"field": "x", "type": "quantitative"}, "y": {"field": "y", "type": "quantitative"}, "color": {"field": "s", "type": "nominal"}}},
    {"data": {"values": [{}]}, "mark": {"type": "text", "align": "left", "baseline": "middle", "fontSize": 12, "font": "Liberation Serif", "color": "#333333"},
     "encoding": {"x": {"datum": 24.2}, "y": {"datum": -140}, "text": {"value": "y=0. 036 6x²-0.706 4x-120.050 0"}}},
    {"data": {"values": [{}]}, "mark": {"type": "text", "fontSize": 13, "font": "Liberation Serif"},
     "encoding": {"x": {"datum": 3.8}, "y": {"datum": -141}, "text": {"value": "(d)"}}}
   ]
  }
 ],
 "spacing": 78.7,
 "bounds": "flush",
 "resolve": {"scale": {"color": "independent"}}
}
],
"spacing": 9,
"resolve": {"scale": {"color": "independent"}}
}
